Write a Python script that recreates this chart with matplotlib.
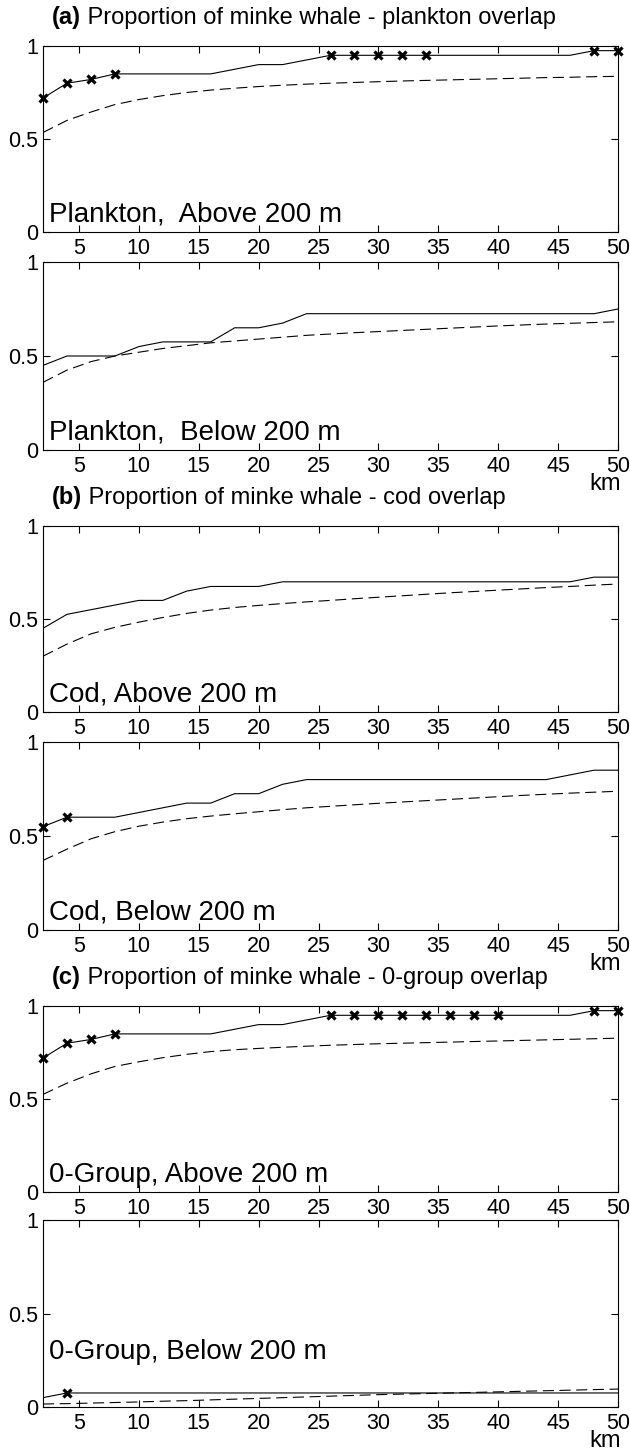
import matplotlib
matplotlib.use("Agg")
import matplotlib.pyplot as plt

plt.rcParams['font.family'] = ['Liberation Sans', 'DejaVu Sans']

# distance class (km)
distance = [2, 4, 6, 8, 10, 12, 14, 16, 18, 20, 22, 24, 26,
            28, 30, 32, 34, 36, 38, 40, 42, 44, 46, 48, 50]

# observed overlap (solid) and expected (dashed), marks = significant points
plankton_above_obs = [0.72, 0.80, 0.82, 0.85, 0.85, 0.85, 0.85, 0.85, 0.875, 0.90, 0.90, 0.925, 0.95,
                      0.95, 0.95, 0.95, 0.95, 0.95, 0.95, 0.95, 0.95, 0.95, 0.95, 0.975, 0.975]
plankton_above_exp = [0.535, 0.60, 0.645, 0.685, 0.712, 0.733, 0.75, 0.763, 0.773, 0.782, 0.789, 0.795, 0.80,
                      0.804, 0.808, 0.812, 0.815, 0.818, 0.821, 0.824, 0.827, 0.83, 0.832, 0.835, 0.837]
plankton_above_marks = [2, 4, 6, 8, 26, 28, 30, 32, 34, 48, 50]

plankton_below_obs = [0.45, 0.50, 0.50, 0.50, 0.55, 0.575, 0.575, 0.575, 0.65, 0.65, 0.675, 0.725, 0.725,
                      0.725, 0.725, 0.725, 0.725, 0.725, 0.725, 0.725, 0.725, 0.725, 0.725, 0.725, 0.75]
plankton_below_exp = [0.36, 0.425, 0.47, 0.50, 0.52, 0.54, 0.555, 0.57, 0.58, 0.59, 0.60, 0.61, 0.617,
                      0.624, 0.63, 0.636, 0.642, 0.648, 0.654, 0.66, 0.665, 0.67, 0.674, 0.678, 0.682]
plankton_below_marks = []

cod_above_obs = [0.45, 0.525, 0.55, 0.575, 0.60, 0.60, 0.65, 0.675, 0.675, 0.675, 0.70, 0.70, 0.70,
                 0.70, 0.70, 0.70, 0.70, 0.70, 0.70, 0.70, 0.70, 0.70, 0.70, 0.725, 0.725]
cod_above_exp = [0.30, 0.365, 0.42, 0.455, 0.483, 0.508, 0.53, 0.548, 0.562, 0.573, 0.583, 0.592, 0.60,
                 0.609, 0.617, 0.625, 0.633, 0.641, 0.648, 0.655, 0.662, 0.669, 0.675, 0.682, 0.688]
cod_above_marks = []

cod_below_obs = [0.55, 0.60, 0.60, 0.60, 0.625, 0.65, 0.675, 0.675, 0.725, 0.725, 0.775, 0.80, 0.80,
                 0.80, 0.80, 0.80, 0.80, 0.80, 0.80, 0.80, 0.80, 0.80, 0.825, 0.85, 0.85]
cod_below_exp = [0.37, 0.43, 0.485, 0.523, 0.552, 0.574, 0.592, 0.606, 0.618, 0.629, 0.64, 0.65, 0.658,
                 0.666, 0.674, 0.681, 0.688, 0.695, 0.702, 0.709, 0.716, 0.722, 0.728, 0.733, 0.738]
cod_below_marks = [2, 4]

group0_above_obs = [0.72, 0.80, 0.82, 0.85, 0.85, 0.85, 0.85, 0.85, 0.875, 0.90, 0.90, 0.925, 0.95,
                    0.95, 0.95, 0.95, 0.95, 0.95, 0.95, 0.95, 0.95, 0.95, 0.95, 0.975, 0.975]
group0_above_exp = [0.525, 0.585, 0.635, 0.675, 0.70, 0.722, 0.74, 0.755, 0.765, 0.772, 0.778, 0.784, 0.789,
                    0.793, 0.797, 0.80, 0.803, 0.806, 0.809, 0.812, 0.815, 0.818, 0.821, 0.824, 0.827]
group0_above_marks = [2, 4, 6, 8, 26, 28, 30, 32, 34, 36, 38, 40, 48, 50]

group0_below_obs = [0.05, 0.075, 0.075, 0.075, 0.075, 0.075, 0.075, 0.075, 0.075, 0.075, 0.075, 0.075, 0.075,
                    0.075, 0.075, 0.075, 0.075, 0.075, 0.075, 0.075, 0.075, 0.075, 0.075, 0.075, 0.075]
group0_below_exp = [0.016, 0.018, 0.021, 0.024, 0.027, 0.031, 0.034, 0.038, 0.042, 0.046, 0.05, 0.054, 0.058,
                    0.062, 0.066, 0.069, 0.072, 0.075, 0.078, 0.081, 0.084, 0.087, 0.09, 0.093, 0.096]
group0_below_marks = [4]

titles = [("(a)", "Proportion of minke whale - plankton overlap"),
          ("(b)", "Proportion of minke whale - cod overlap"),
          ("(c)", "Proportion of minke whale - 0-group overlap")]
xticks = [5, 10, 15, 20, 25, 30, 35, 40, 45, 50]
yticks = [0, 0.5, 1]
yticklabels = ["0", "0.5", "1"]

panels = [
    (plankton_above_obs, plankton_above_exp, plankton_above_marks, "Plankton,  Above 200 m"),
    (plankton_below_obs, plankton_below_exp, plankton_below_marks, "Plankton,  Below 200 m"),
    (cod_above_obs, cod_above_exp, cod_above_marks, "Cod, Above 200 m"),
    (cod_below_obs, cod_below_exp, cod_below_marks, "Cod, Below 200 m"),
    (group0_above_obs, group0_above_exp, group0_above_marks, "0-Group, Above 200 m"),
    (group0_below_obs, group0_below_exp, group0_below_marks, "0-Group, Below 200 m"),
]

W, H = 630, 1452
fig = plt.figure(figsize=(W / 100, H / 100), dpi=100)

# pixel boxes (top, bottom) of each axes
boxes = [(46, 232), (262, 450), (526, 712), (742, 930), (1006, 1192), (1220, 1407)]
left, right = 43, 618
label_y = [0.055, 0.055, 0.055, 0.055, 0.055, 0.255]

for i, (obs, exp, marks, label) in enumerate(panels):
    top, bot = boxes[i]
    ax = fig.add_axes([left / W, 1 - bot / H, (right - left) / W, (bot - top) / H])
    ax.plot(distance, obs, color='k', lw=0.8)
    ax.plot(distance, exp, color='k', lw=0.8, linestyle=(0, (10, 5)))
    if marks:
        my = [obs[distance.index(m)] for m in marks]
        ax.plot(marks, my, linestyle='none', marker='x', color='k', ms=6, mew=2.3,
                clip_on=False, zorder=5)
    ax.set_xlim(2, 50)
    ax.set_ylim(0, 1)
    ax.set_xticks(xticks)
    ax.set_yticks(yticks)
    ax.set_yticklabels(yticklabels)
    ax.tick_params(direction='in', top=True, right=True, length=5, width=0.8,
                   labelsize=15.5, colors='k')
    ax.tick_params(axis='x', pad=4)
    ax.tick_params(axis='y', pad=3.5)
    for s in ax.spines.values():
        s.set_linewidth(0.8)
    ax.text(0.01, label_y[i], label, transform=ax.transAxes, fontsize=20,
            ha='left', va='baseline')

    if i % 2 == 0:
        tag, rest = titles[i // 2]
        t = ax.annotate(tag, xy=(0.016, 1), xycoords='axes fraction', xytext=(0, 16),
                        textcoords='offset points', fontsize=17, fontweight='bold',
                        ha='left', va='baseline')
        ax.annotate(" " + rest, xy=(1, 0), xycoords=t, fontsize=17,
                    ha='left', va='bottom')
    else:
        fig.text(621 / W, 1 - (bot + 40) / H, "km", fontsize=17, ha='right', va='baseline')

fig.savefig("out.png", dpi=100)
